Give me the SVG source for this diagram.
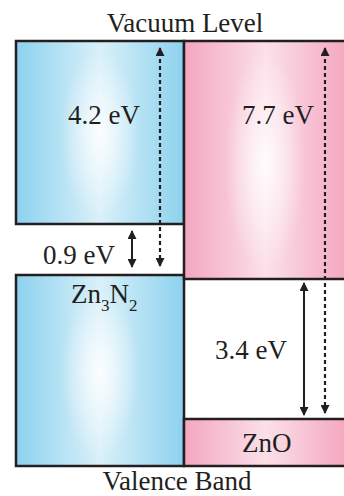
<svg xmlns="http://www.w3.org/2000/svg" width="344" height="496" viewBox="0 0 344 496">
<style>
.box{stroke:#231f20;stroke-width:2.5}
text{font-family:'Liberation Serif','DejaVu Serif','Times New Roman',serif;font-size:27px;fill:#231f20}
.dash{stroke:#231f20;stroke-width:2.2;stroke-dasharray:4 3;fill:none}
.solid{stroke:#231f20;stroke-width:2;fill:none}
</style>
<defs>
<linearGradient id="blueH" x1="0" y1="0" x2="1" y2="0">
<stop offset="0" stop-color="#8dd2ee"/>
<stop offset="0.5" stop-color="#d9f0f9"/>
<stop offset="1" stop-color="#8dd2ee"/>
</linearGradient>
<linearGradient id="pinkH" x1="0" y1="0" x2="1" y2="0">
<stop offset="0" stop-color="#f4a6bf"/>
<stop offset="0.5" stop-color="#fbe0e9"/>
<stop offset="1" stop-color="#f4a6bf"/>
</linearGradient>
<radialGradient id="glow" cx="0.5" cy="0.5" r="0.5">
<stop offset="0" stop-color="#ffffff" stop-opacity="0.9"/>
<stop offset="1" stop-color="#ffffff" stop-opacity="0"/>
</radialGradient>
<marker id="ah" viewBox="0 0 10 10" refX="9" refY="5" markerWidth="10" markerHeight="9" markerUnits="userSpaceOnUse" orient="auto-start-reverse">
<path d="M0,0 L10,5 L0,10 z" fill="#231f20"/>
</marker>
</defs>

<g id="zn3n2-cb">
<rect class="box" x="16" y="41" width="168" height="183" fill="url(#blueH)"/>
<rect x="60" y="50" width="80" height="170" fill="url(#glow)"/>
</g>
<g id="zn3n2-vb">
<rect class="box" x="16" y="275" width="168" height="191" fill="url(#blueH)"/>
<rect x="60" y="285" width="80" height="175" fill="url(#glow)"/>
</g>
<g id="zno-cb">
<rect class="box" x="184" y="41" width="164" height="238" fill="url(#pinkH)"/>
<rect x="225" y="50" width="80" height="225" fill="url(#glow)"/>
</g>
<g id="zno-vb">
<rect class="box" x="184" y="419" width="164" height="47" fill="url(#pinkH)"/>
</g>

<g id="connectors">
<line class="dash" x1="160" y1="266" x2="160" y2="48" marker-start="url(#ah)" marker-end="url(#ah)"/>
<line class="dash" x1="325" y1="413" x2="325" y2="48" marker-start="url(#ah)" marker-end="url(#ah)"/>
<line class="solid" x1="132" y1="267" x2="132" y2="231" marker-start="url(#ah)" marker-end="url(#ah)"/>
<line class="solid" x1="304" y1="415" x2="304" y2="283" marker-start="url(#ah)" marker-end="url(#ah)"/>
</g>

<g id="labels">
<text x="185" y="32" text-anchor="middle">Vacuum Level</text>
<text x="68" y="124">4.2 eV</text>
<text x="242" y="124">7.7 eV</text>
<text x="43" y="264">0.9 eV</text>
<text x="71" y="303">Zn<tspan font-size="17" dy="8">3</tspan><tspan dy="-8">N</tspan><tspan font-size="17" dy="8">2</tspan></text>
<text x="215" y="359">3.4 eV</text>
<text x="242" y="452">ZnO</text>
<text x="177" y="490" text-anchor="middle">Valence Band</text>
</g>
</svg>
